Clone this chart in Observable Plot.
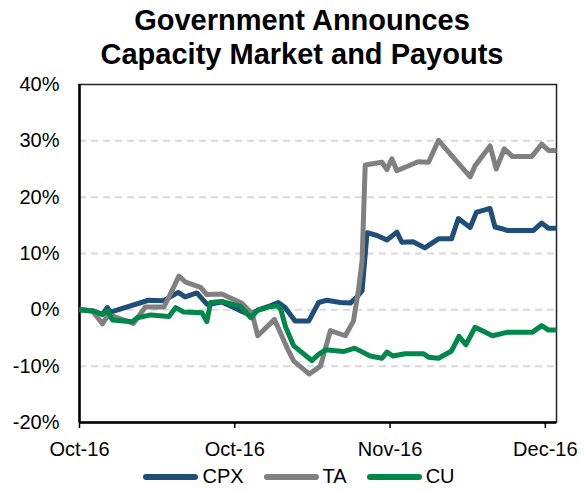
<!DOCTYPE html>
<html>
<head>
<meta charset="utf-8">
<script src="https://cdn.jsdelivr.net/npm/d3@7"></script>
<script src="https://cdn.jsdelivr.net/npm/@observablehq/plot@0.6"></script>
<style>
  html, body { margin: 0; padding: 0; background: #fff; }
  body { width: 584px; height: 491px; overflow: hidden; font-family: "Liberation Sans", Arial, sans-serif; }
  #title { height: 72px; box-sizing: border-box; padding-top: 3px; padding-left: 20px; text-align: center;
           font-weight: bold; font-size: 29px; line-height: 34px; color: #000; }
  #legend { display: flex; justify-content: center; align-items: center; height: 29px; padding-left: 14px;
            font-size: 20px; color: #000; }
  .item { display: flex; align-items: center; margin: 0 10px; }
  .sw { width: 55px; height: 6px; border-radius: 3px; margin-right: 4px; }
</style>
</head>
<body>
<div id="title">Government Announces<br>Capacity Market and Payouts</div>
<div id="chart"></div>
<div id="legend"></div>
<script>
const seriesNames = ["CPX", "TA", "CU"];
const seriesColors = ["#1F4E79", "#808080", "#00874A"];

const xTicks = [0, 25, 50, 75];
const xTickLabels = ["Oct-16", "Oct-16", "Nov-16", "Dec-16"];
const yTicks = [-20, -10, 0, 10, 20, 30, 40];
const gridVals = [-10, 0, 10, 20, 30];

const cpxDay = [0, 2.1, 3.7, 4.5, 5.0, 11.1, 13.5, 15.9, 17.0, 18.9, 20.5, 21.5, 22.9, 25.6, 27.5, 28.8, 30.7, 32.0, 33.1, 34.7, 36.9, 38.5, 39.8, 42.0, 43.6, 44.6, 45.5, 46.3, 47.9, 49.5, 51.1, 51.9, 53.7, 55.6, 57.8, 59.9, 61.0, 62.9, 63.9, 66.1, 66.9, 68.0, 68.8, 73.1, 74.4, 75.5, 76.8];
const cpxPct = [0, -0.2, -0.8, 0.4, -0.4, 1.7, 1.6, 3.1, 2.3, 3.0, 1.0, 1.1, 1.4, 0.0, -0.9, 0.0, 0.7, 1.3, 0.4, -2.0, -2.0, 1.3, 1.7, 1.3, 1.2, 2.2, 3.4, 13.7, 13.2, 12.4, 13.8, 12.0, 12.1, 11.0, 12.6, 12.6, 16.2, 14.6, 17.3, 18.0, 14.7, 14.4, 14.1, 14.1, 15.4, 14.5, 14.5];

const taDay = [0, 2.1, 3.7, 4.5, 5.3, 8.7, 10.6, 13.6, 14.9, 16.0, 17.1, 19.5, 20.5, 22.9, 26.1, 27.8, 28.7, 31.4, 33.4, 34.5, 37.0, 38.8, 40.4, 42.8, 44.1, 44.9, 45.5, 46.0, 48.7, 49.5, 50.3, 51.1, 54.5, 56.2, 57.8, 62.9, 63.7, 66.1, 67.1, 68.4, 69.7, 72.8, 74.4, 75.5, 76.8];
const taPct = [0.1, -0.2, -2.5, -1.1, -1.1, -2.4, 0.5, 0.5, 3.4, 6.0, 4.9, 4.0, 2.7, 2.8, 1.2, -0.7, -4.6, -1.7, -6.7, -9.1, -11.4, -10.0, -3.7, -4.6, -2.0, 3.4, 8.7, 25.7, 26.2, 24.9, 26.8, 24.7, 26.3, 26.2, 30.1, 23.6, 25.6, 29.1, 25.0, 28.6, 27.2, 27.2, 29.4, 28.3, 28.3];

const cuDay = [0, 2.1, 3.7, 4.5, 5.3, 8.5, 9.3, 11.5, 14.4, 15.5, 16.8, 19.7, 20.5, 21.1, 22.9, 25.9, 27.6, 28.7, 30.4, 31.9, 32.4, 33.2, 34.5, 37.4, 38.5, 39.6, 42.5, 44.3, 46.8, 48.7, 49.5, 50.5, 52.4, 55.4, 56.2, 57.8, 59.9, 61.1, 62.2, 63.7, 66.5, 68.8, 72.9, 74.4, 75.5, 76.8];
const cuPct = [0, -0.2, -0.8, -0.1, -1.8, -2.1, -1.4, -0.9, -1.2, 0.4, -0.4, -0.5, -2.1, 1.3, 1.5, 0.6, -1.4, -0.1, 0.5, 0.7, 0.1, -3.1, -6.4, -9.0, -7.9, -7.1, -7.4, -6.8, -8.2, -8.6, -7.5, -8.2, -7.8, -7.8, -8.4, -8.6, -7.3, -4.7, -6.2, -3.1, -4.6, -4.0, -4.0, -2.8, -3.6, -3.6];

const rows = [];
[[cpxDay, cpxPct], [taDay, taPct], [cuDay, cuPct]].forEach(([days, vals], s) => {
  days.forEach((d, i) => rows.push({series: seriesNames[s], day: d, pct: vals[i]}));
});

const labelMap = new Map(xTicks.map((t, i) => [t, xTickLabels[i]]));

const chart = Plot.plot({
  width: 584,
  height: 390,
  marginLeft: 79,
  marginRight: 28,
  marginTop: 12,
  marginBottom: 40,
  style: {fontFamily: '"Liberation Sans", Arial, sans-serif', fontSize: "20px", color: "#000", background: "#fff", overflow: "visible"},
  x: {domain: [0, 76.8]},
  y: {domain: [-20, 40]},
  color: {domain: seriesNames, range: seriesColors},
  marks: [
    Plot.ruleY(gridVals, {stroke: "#d9d9d9", strokeWidth: 2, strokeDasharray: "7,5"}),
    Plot.frame({stroke: "#222", strokeWidth: 1.5}),
    Plot.ruleX([0], {stroke: "#000", strokeWidth: 2.5}),
    Plot.ruleY([-20], {stroke: "#000", strokeWidth: 2.5}),
    Plot.axisX({ticks: xTicks, tickFormat: d => labelMap.get(d), tickSize: 6, tickPadding: 13, strokeWidth: 1.5, stroke: "#000", label: null, fontSize: 20}),
    Plot.axisY({ticks: yTicks, tickFormat: d => d + "%", tickSize: 0, tickPadding: 20, label: null, fontSize: 20}),
    Plot.line(rows, {x: "day", y: "pct", z: "series", stroke: "series", strokeWidth: 5, strokeLinejoin: "round", strokeLinecap: "butt"})
  ]
});
document.getElementById("chart").appendChild(chart);

const legend = document.getElementById("legend");
seriesNames.forEach((name, i) => {
  const it = document.createElement("div");
  it.className = "item";
  const sw = document.createElement("div");
  sw.className = "sw";
  sw.style.background = seriesColors[i];
  const tx = document.createElement("span");
  tx.textContent = name;
  it.appendChild(sw); it.appendChild(tx);
  legend.appendChild(it);
});
</script>
</body>
</html>
